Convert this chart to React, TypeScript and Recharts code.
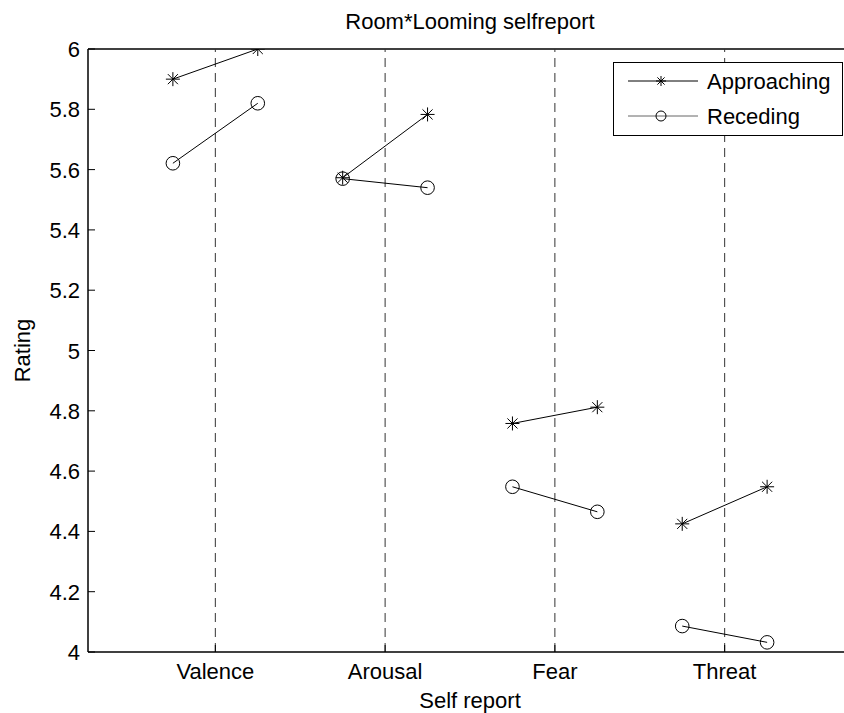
import React from "react";
import {
  LineChart, Line, XAxis, YAxis, ReferenceLine, Legend,
} from "recharts";

// --- data ---
const categories = ["Valence", "Arousal", "Fear", "Threat"];
const approachingRoom1 = [5.9, 5.573, 4.758, 4.425];
const approachingRoom2 = [6.0, 5.783, 4.812, 4.548];
const recedingRoom1 = [5.621, 5.57, 4.548, 4.086];
const recedingRoom2 = [5.82, 5.54, 4.465, 4.032];
const yTicks = [4, 4.2, 4.4, 4.6, 4.8, 5, 5.2, 5.4, 5.6, 5.8, 6];
const xTicks = [1, 2, 3, 4];
const OFFSET = 0.25;

const FONT = "'Liberation Sans', Arial, Helvetica, sans-serif";

// one row per point, plus a null row between categories to break the line
const rows: any[] = [];
categories.forEach((_, i) => {
  const c = i + 1;
  rows.push({ x: c - OFFSET, approaching: approachingRoom1[i], receding: recedingRoom1[i] });
  rows.push({ x: c + OFFSET, approaching: approachingRoom2[i], receding: recedingRoom2[i] });
  if (i < categories.length - 1) rows.push({ x: c + 0.5, approaching: null, receding: null });
});

const Star = ({ cx, cy, r = 7 }: any) => {
  const d = r * 0.72;
  return (
    <g stroke="#000" strokeWidth={1}>
      <line x1={cx - r} y1={cy} x2={cx + r} y2={cy} />
      <line x1={cx} y1={cy - r} x2={cx} y2={cy + r} />
      <line x1={cx - d} y1={cy - d} x2={cx + d} y2={cy + d} />
      <line x1={cx - d} y1={cy + d} x2={cx + d} y2={cy - d} />
    </g>
  );
};

const starDot = (props: any) => {
  const { cx, cy, index, value } = props;
  if (value == null || cy == null || isNaN(cy)) return <g key={`s${index}`} />;
  return <Star key={`s${index}`} cx={cx} cy={cy} />;
};

const circleDot = (props: any) => {
  const { cx, cy, index, value } = props;
  if (value == null || cy == null || isNaN(cy)) return <g key={`c${index}`} />;
  return <circle key={`c${index}`} cx={cx} cy={cy} r={6.8} fill="none" stroke="#000" strokeWidth={1} />;
};

const YTick = ({ x, y, payload }: any) => (
  <g>
    <line x1={x + 8} x2={x + 15} y1={y} y2={y} stroke="#000" />
    <text x={x} y={y} dy={8} textAnchor="end" fontFamily={FONT} fontSize={22} fill="#000">
      {String(payload.value)}
    </text>
  </g>
);

const XTick = ({ x, y, payload }: any) => (
  <g>
    <line x1={x} x2={x} y1={y} y2={y - 7} stroke="#000" />
    <text x={x} y={y} dy={27} textAnchor="middle" fontFamily={FONT} fontSize={22} fill="#000">
      {categories[payload.value - 1]}
    </text>
  </g>
);

const LegendBox = () => (
  <svg width={230} height={74} style={{ display: "block" }}>
    <rect x={0.5} y={0.5} width={229} height={73} fill="#fff" stroke="#000" strokeWidth={1} />
    <line x1={15} x2={85} y1={19} y2={19} stroke="#000" />
    <Star cx={48} cy={19} r={5} />
    <text x={94} y={27} fontFamily={FONT} fontSize={22} fill="#000">Approaching</text>
    <line x1={15} x2={85} y1={54} y2={54} stroke="#666" />
    <circle cx={48} cy={54} r={5} fill="none" stroke="#000" />
    <text x={94} y={62} fontFamily={FONT} fontSize={22} fill="#000">Receding</text>
  </svg>
);

export default function App() {
  return (
    <div style={{ position: "absolute", left: 0, top: 0, width: 844, height: 713, overflow: "hidden", background: "#fff" }}>
      <div
        style={{
          position: "absolute", left: 0, width: 940, top: 11, textAlign: "center",
          fontFamily: FONT, fontSize: 22, lineHeight: "22px", color: "#000",
        }}
      >
        Room*Looming selfreport
      </div>
      <LineChart width={860} height={713} data={rows} margin={{ top: 49, right: 8, bottom: 0, left: 0 }}>
        <XAxis
          dataKey="x"
          type="number"
          domain={[0.25, 4.75]}
          ticks={xTicks}
          allowDataOverflow
          height={61}
          tickSize={0}
          tickMargin={0}
          tick={<XTick />}
          axisLine={{ stroke: "#000", strokeWidth: 1.5 }}
          tickLine={false}
          label={{ value: "Self report", position: "insideBottom", offset: 5, fontFamily: FONT, fontSize: 22, fill: "#000" }}
        />
        <YAxis
          type="number"
          domain={[4, 6]}
          ticks={yTicks}
          allowDataOverflow
          width={88}
          tickSize={0}
          tickMargin={8}
          tick={<YTick />}
          axisLine={{ stroke: "#000", strokeWidth: 1.5 }}
          tickLine={false}
          label={{
            value: "Rating", angle: -90, position: "insideLeft", offset: 22,
            style: { textAnchor: "middle", fontFamily: FONT, fontSize: 22, fill: "#000" },
          }}
        />
        <ReferenceLine y={6} stroke="#000" strokeWidth={1.5} />
        {xTicks.map((t) => (
          <ReferenceLine key={t} x={t} stroke="#333" strokeWidth={1} strokeDasharray="9 6" />
        ))}
        <Line
          dataKey="approaching"
          name="Approaching"
          stroke="#000"
          strokeWidth={1}
          dot={starDot}
          activeDot={false}
          connectNulls={false}
          isAnimationActive={false}
        />
        <Line
          dataKey="receding"
          name="Receding"
          stroke="#000"
          strokeWidth={1}
          dot={circleDot}
          activeDot={false}
          connectNulls={false}
          isAnimationActive={false}
        />
        <Legend
          layout="horizontal"
          verticalAlign="middle"
          align="center"
          content={() => <LegendBox />}
          wrapperStyle={{ position: "absolute", left: 613, top: 62, width: 230, height: 74, right: "auto", bottom: "auto" }}
        />
      </LineChart>
    </div>
  );
}
